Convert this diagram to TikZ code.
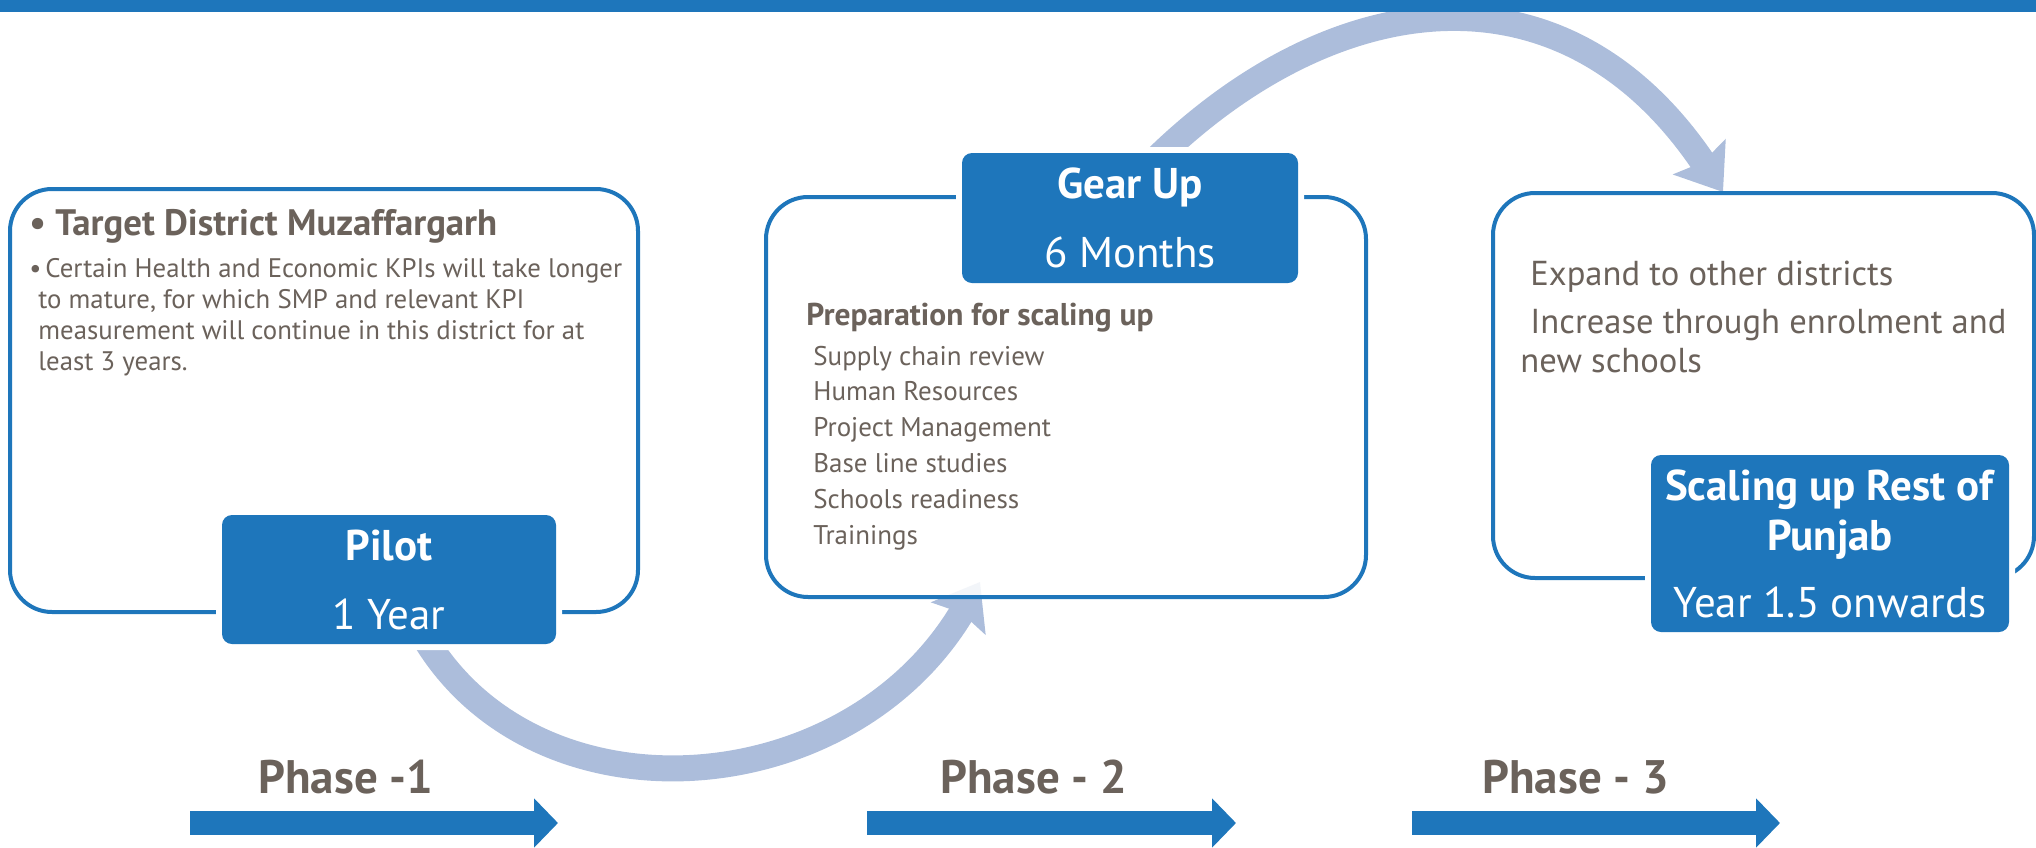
\documentclass[tikz,border=0pt]{standalone}
\usepackage{fontspec}
\setmainfont{PT Sans}
\usetikzlibrary{arrows.meta}
\definecolor{mainblue}{HTML}{1E76BB}
\definecolor{arcblue}{HTML}{ACBDDB}
\definecolor{txtgray}{HTML}{6B625B}

\begin{document}
\begin{tikzpicture}[x=0.5pt, y=-0.5pt]
  \tikzset{
    panel/.style={draw=mainblue, line width=2pt, rounded corners=21pt, fill=white, inner sep=0pt},
    tag/.style={fill=mainblue, rounded corners=5pt, preaction={draw=white, line width=6pt}, text=white, align=center, inner sep=0pt,
      font=\fontsize{21.5}{34.5}\selectfont},
    headtxt/.style={text=txtgray, anchor=base west, inner sep=0pt, font=\bfseries\fontsize{18.4}{22}\selectfont},
    bodytxt/.style={text=txtgray, anchor=base west, inner sep=0pt, align=left, font=\fontsize{13.4}{15.5}\selectfont},
    phaselbl/.style={text=txtgray, anchor=base west, inner sep=0pt, font=\bfseries\fontsize{23.5}{28}\selectfont},
    phasearr/.style={draw=mainblue, line width=12pt, -{Triangle[length=12pt, width=24pt]}},
    flowarc/.style={draw=arcblue, line width=13pt, -{Stealth[length=21pt, width=31pt, inset=3pt]}}
  }
  \useasboundingbox (0,0) rectangle (2036,847);

  \coordinate (a1) at (410,610);
  \coordinate (a1tip) at (980,582);
  \coordinate (a2) at (1150,165);
  \coordinate (a2tip) at (1723,192);
  \draw[flowarc] (a1) .. controls (508,828) and (842,814) .. (a1tip);
  \draw[flowarc] (a2) .. controls (1327,-12) and (1561,-49) .. (a2tip);

  \node[panel, minimum width=314pt, minimum height=211.5pt] (pilotbox) at (324,400.5) {};
  \node[panel, fill opacity=0.85, minimum width=300pt, minimum height=200pt] (gearbox) at (1066,397) {};
  \node[panel, minimum width=270.5pt, minimum height=192.5pt] (scalebox) at (1763.5,385.5) {};

  \node[tag, minimum width=167pt, minimum height=64.5pt] (pilot) at (389,579.5) {\textbf{Pilot}\\1 Year};
  \node[tag, minimum width=168pt, minimum height=65pt] (gearup) at (1130,218) {\textbf{Gear Up}\\6 Months};
  \node[tag, minimum width=179pt, minimum height=88.5pt, font=\fontsize{21.5}{25}\selectfont] (scaling) at (1830,543.5)
    {\textbf{Scaling up Rest of}\\\textbf{Punjab}\\[8.5pt]Year 1.5 onwards};

  \node[headtxt] (target) at (29,235) {• Target District Muzaffargarh};
  \node[bodytxt] (kpi) at (29,370) {\makebox[8pt][l]{•}Certain Health and Economic KPIs will take longer\\
    \hspace*{4.5pt}to mature, for which SMP and relevant KPI\\
    \hspace*{4.5pt}measurement will continue in this district for at\\
    \hspace*{4.5pt}least 3 years.};

  \node[headtxt, font=\bfseries\fontsize{15.75}{18}\selectfont] (prep) at (806,325) {Preparation for scaling up};
  \node[bodytxt, font=\fontsize{13.5}{17.9}\selectfont] (steps) at (813,544) {Supply chain review\\Human Resources\\Project Management\\
    Base line studies\\Schools readiness\\Trainings};

  \node[bodytxt, font=\fontsize{17.3}{19.5}\selectfont] (expand) at (1530,285) {Expand to other districts};
  \node[bodytxt, font=\fontsize{17.3}{19.5}\selectfont] (increase) at (1520,372) {\hspace*{5pt}Increase through enrolment and\\new schools};

  \node[phaselbl] (phase1) at (258,793) {Phase -1};
  \node[phaselbl] (phase2) at (940,793) {Phase - 2};
  \node[phaselbl] (phase3) at (1482,793) {Phase - 3};

  \coordinate (p1s) at (190,823);
  \coordinate (p1e) at (558,823);
  \coordinate (p2s) at (867,823);
  \coordinate (p2e) at (1236,823);
  \coordinate (p3s) at (1412,823);
  \coordinate (p3e) at (1780,823);
  \draw[phasearr] (p1s) -- (p1e);
  \draw[phasearr] (p2s) -- (p2e);
  \draw[phasearr] (p3s) -- (p3e);

  \fill[mainblue] (0,0) rectangle (2036,12);
\end{tikzpicture}
\end{document}
